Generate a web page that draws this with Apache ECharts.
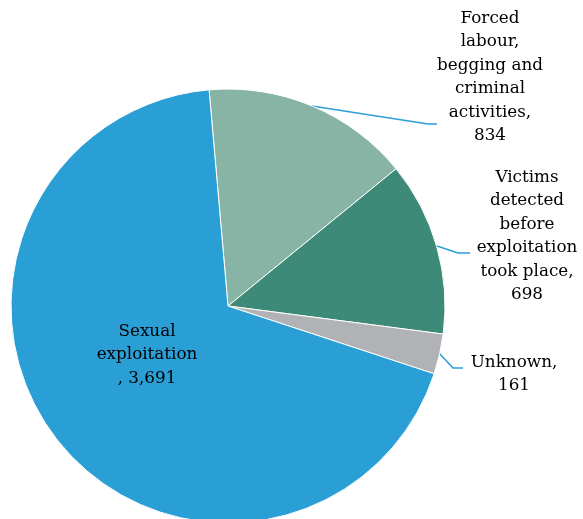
<!DOCTYPE html>
<html><head><meta charset="utf-8">
<script src="https://cdn.jsdelivr.net/npm/echarts@6/dist/echarts.min.js"></script>
<style>html,body{margin:0;padding:0;background:#fff}#c{width:583px;height:519px}</style>
</head><body><div id="c"></div>
<script>
const categories = ['Forced labour, begging and criminal activities', 'Victims detected before exploitation took place', 'Unknown', 'Sexual exploitation'];
const labelTexts = ['Forced\nlabour,\nbegging and\ncriminal\nactivities,\n834', 'Victims\ndetected\nbefore\nexploitation\ntook place,\n698', 'Unknown,\n161', 'Sexual\nexploitation\n, 3,691'];
const values = [834, 698, 161, 3691];
const colors = ['#88b4a5', '#3c8a77', '#b1b2b5', '#2a9fd5'];

const labelPos = [
  {x: 490, y: 77, line: [[312, 106], [428, 124], [437, 124]]},
  {x: 527, y: 236, line: [[437, 246], [458, 253], [470, 253]]},
  {x: 514, y: 374, line: [[439, 353], [453, 368], [463, 368]]},
  {x: 147, y: 355, line: null}
];

const chart = echarts.init(document.getElementById('c'));
chart.setOption({
  animation: false,
  series: [{
    type: 'pie',
    center: [228, 306],
    radius: 217,
    startAngle: 95,
    clockwise: true,
    avoidLabelOverlap: false,
    itemStyle: {borderColor: '#ffffff', borderWidth: 1},
    label: {
      show: true,
      fontFamily: 'DejaVu Serif',
      fontSize: 16.8,
      lineHeight: 23.5,
      color: '#000000',
      align: 'center',
      overflow: 'none',
      formatter: p => labelTexts[p.dataIndex]
    },
    labelLine: {show: true, lineStyle: {color: '#2a9fd5', width: 1.5}},
    labelLayout: function (params) {
      const lp = labelPos[params.dataIndex];
      const r = {x: lp.x, y: lp.y, align: 'center', verticalAlign: 'middle', hideOverlap: false};
      if (lp.line) r.labelLinePoints = lp.line;
      return r;
    },
    data: categories.map((c, i) => ({
      name: c,
      value: values[i],
      itemStyle: {color: colors[i]},
      label: i === 3 ? {position: 'inside'} : {},
      labelLine: {show: i !== 3}
    }))
  }]
});
</script></body></html>
